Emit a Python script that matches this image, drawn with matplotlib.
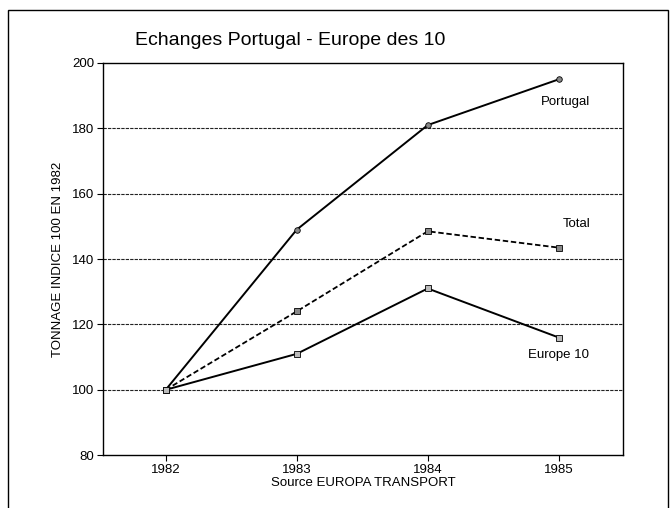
import matplotlib
matplotlib.use("Agg")
import matplotlib.pyplot as plt
from matplotlib.patches import Rectangle

plt.rcParams["font.family"] = ["Liberation Sans", "DejaVu Sans"]

years = [1982, 1983, 1984, 1985]
portugal = [100, 149, 181, 195]
total = [100, 124, 148.5, 143.5]
europe10 = [100, 111, 131, 116]

fig = plt.figure(figsize=(6.72, 5.08), dpi=100)
ax = fig.add_axes([0.153, 0.104, 0.774, 0.772])

# outer frame of the page
fig.patches.append(Rectangle((0.012, -0.05), 0.982, 1.03, transform=fig.transFigure,
                             fill=False, edgecolor="black", linewidth=1.0))

# dashed horizontal grid
for v in [100, 120, 140, 160, 180]:
    ax.axhline(v, color="#222222", linestyle=(0, (3, 1)), linewidth=0.8, zorder=1)

ax.plot(years, portugal, color="black", linewidth=1.4, marker="o", markersize=4,
        markerfacecolor="#888888", markeredgecolor="black", markeredgewidth=0.6, zorder=3)
ax.plot(years, total, color="black", linewidth=1.3, linestyle=(0, (3, 1.5)), marker="s",
        markersize=4, markerfacecolor="#888888", markeredgecolor="black",
        markeredgewidth=0.6, zorder=3)
ax.plot(years, europe10, color="black", linewidth=1.4, marker="s", markersize=4,
        markerfacecolor="#bbbbbb", markeredgecolor="black", markeredgewidth=0.6, zorder=3)

ax.text(1985.05, 188, "Portugal", fontsize=9.5, ha="center", va="center")
ax.text(1985.14, 150.7, "Total", fontsize=9.5, ha="center", va="center")
ax.text(1985.0, 110.5, "Europe 10", fontsize=9.5, ha="center", va="center")

ax.set_xlim(1981.52, 1985.49)
ax.set_ylim(80, 200)
ax.set_xticks(years)
ax.set_yticks([80, 100, 120, 140, 160, 180, 200])
ax.tick_params(labelsize=9.5, direction="out", length=4, width=0.8, pad=2)
for s in ax.spines.values():
    s.set_linewidth(1.0)

ax.set_xlabel("Source EUROPA TRANSPORT", fontsize=9.5, labelpad=1)
ax.set_ylabel("TONNAGE INDICE 100 EN 1982", fontsize=9.5, labelpad=6)
fig.text(0.432, 0.92, "Echanges Portugal - Europe des 10", fontsize=14,
         ha="center", va="center")

fig.savefig("out.png", dpi=100)
